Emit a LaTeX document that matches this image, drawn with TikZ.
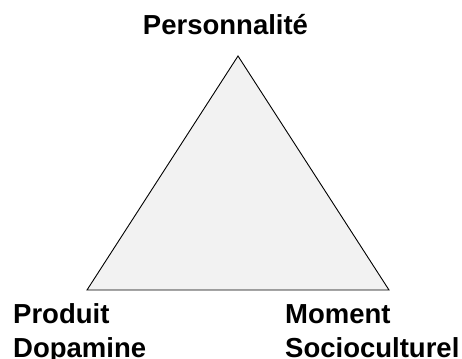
\documentclass[tikz,border=0pt]{standalone}
\usepackage{fontspec}
\setmainfont{Liberation Sans}
\usetikzlibrary{positioning, calc}
\definecolor{triGray}{RGB}{242,242,242}
\tikzstyle{corner}=[font=\fontsize{27.5}{34}\selectfont\bfseries,inner sep=0pt,align=left]
\tikzstyle{triangle}=[draw=black,fill=triGray,line width=0.9pt,line join=miter]

\begin{document}
\begin{tikzpicture}[x=1pt,y=-1pt]
\useasboundingbox (0,0) rectangle (462,358);
\coordinate (top) at (238,56);
\coordinate (left) at (87,290);
\coordinate (right) at (389,290);
\filldraw [triangle] (top) -- (left) -- (right) -- cycle;
\node [corner,anchor=base] (perso) at (225.5,35) {Personnalité};
\node [corner,anchor=base west] (produit) at (13,357) {Produit\\Dopamine};
\node [corner,anchor=base west] (moment) at (285,357) {Moment\\Socioculturel};
\end{tikzpicture}
\end{document}
